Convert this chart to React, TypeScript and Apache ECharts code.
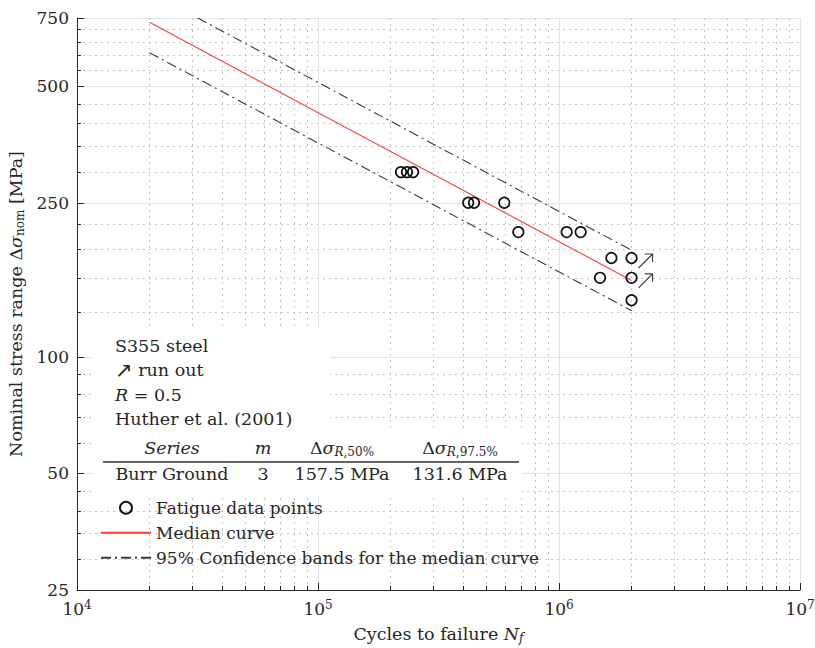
import React, { useEffect, useRef } from "react";
import * as echarts from "echarts";

// ---- data ----
const cycles = [2.21e5, 2.34e5, 2.48e5, 4.2e5, 4.44e5, 5.93e5, 6.78e5, 1.076e6, 1.23e6, 1.48e6, 1.65e6, 2.0e6, 2.0e6, 2.0e6];
const stress = [300, 300, 300, 250, 250, 250, 210, 210, 210, 160, 180, 180, 160, 140];
const runoutCycles = [2.0e6, 2.0e6];
const runoutStress = [180, 160];
const medianCycles = [2e4, 2e6];
const medianStress = [731, 157.5];
const upperCycles = [31700, 2e6];
const upperStress = [750, 188.5];
const lowerCycles = [2e4, 2e6];
const lowerStress = [610, 131.6];

const xMajorTicks = [1e4, 1e5, 1e6, 1e7];
const xMinorTicks = [2e4, 3e4, 4e4, 5e4, 6e4, 7e4, 8e4, 9e4, 2e5, 3e5, 4e5, 5e5, 6e5, 7e5, 8e5, 9e5, 2e6, 3e6, 4e6, 5e6, 6e6, 7e6, 8e6, 9e6];
const yMajorTicks = [25, 50, 100, 250, 500, 750];
const yMinorTicks = [30, 35, 40, 45, 60, 70, 80, 90, 130, 160, 190, 220, 300, 350, 400, 450, 550, 600, 650, 700];

const annotationLines = ["S355 steel", "{ar|↗}{n| run out}", "{i|R}{n| = 0.5}", "Huther et al. (2001)"];
const tableHeader = ["{i|Series}", "{i|m}", "{n|Δ}{i|σ}{si|R}{s|,50%}", "{n|Δ}{i|σ}{si|R}{s|,97.5%}"];
const tableRow = ["Burr Ground", "3", "157.5 MPa", "131.6 MPa"];
const legendNames = ["Fatigue data points", "Median curve", "95% Confidence bands for the median curve"];

const FONT = "'DejaVu Serif', 'Liberation Serif', serif";
const TXT = "#262626";
const FS = 17.5;

function pairs(xs: number[], ys: number[]) {
  return xs.map((x, i) => [x, ys[i]]);
}

const richBase = {
  n: { fontFamily: FONT, fontSize: FS, color: TXT },
  ar: { fontFamily: "'DejaVu Sans', sans-serif", fontSize: 21, color: TXT },
  i: { fontFamily: FONT, fontSize: FS, fontStyle: "italic", color: TXT },
  si: { fontFamily: FONT, fontSize: 12, fontStyle: "italic", color: TXT, verticalAlign: "bottom", padding: [8, 0, 0, 0] },
  s: { fontFamily: FONT, fontSize: 12, color: TXT, verticalAlign: "bottom", padding: [8, 0, 0, 0] },
};

export default function App() {
  const ref = useRef<HTMLDivElement>(null);
  useEffect(() => {
    document.body.style.margin = "0";
    const chart = echarts.init(ref.current!, null, { renderer: "svg" });
    const colX = [172, 263, 342, 460];
    const graphics: any[] = [
      { type: "rect", z: 50, shape: { x: 93, y: 328, width: 237, height: 104 }, style: { fill: "#fff" }, silent: true },
      { type: "rect", z: 50, shape: { x: 93, y: 432, width: 429, height: 65 }, style: { fill: "#fff" }, silent: true },
      { type: "line", z: 51, shape: { x1: 103, y1: 462, x2: 519, y2: 462 }, style: { stroke: "#333", lineWidth: 1.5 }, silent: true },
    ];
    annotationLines.forEach((t, k) => {
      graphics.push({
        type: "text", z: 51, x: 115, y: [346, 370, 395, 419][k],
        style: { text: t, font: `${FS}px ${FONT}`, fill: TXT, align: "left", verticalAlign: "middle", rich: richBase },
        silent: true,
      });
    });
    tableHeader.forEach((t, k) => {
      graphics.push({
        type: "text", z: 51, x: colX[k], y: 448,
        style: { text: t, font: `${FS}px ${FONT}`, fill: TXT, align: "center", verticalAlign: "middle", rich: richBase },
        silent: true,
      });
    });
    tableRow.forEach((t, k) => {
      graphics.push({
        type: "text", z: 51, x: colX[k], y: 474,
        style: { text: t, font: `${FS}px ${FONT}`, fill: TXT, align: "center", verticalAlign: "middle" },
        silent: true,
      });
    });

    const majorSplit = { show: true, lineStyle: { color: "#e2e2e2", width: 1, type: "solid" } };
    const minorSplit = { show: true, lineStyle: { color: "#c4c4c4", width: 1, type: [2, 4] } };
    const hiddenItem = { color: "rgba(0,0,0,0)", borderColor: "rgba(0,0,0,0)", borderWidth: 0 };

    chart.setOption({
      animation: false,
      backgroundColor: "#fff",
      textStyle: { fontFamily: FONT },
      grid: { left: 77, right: 15, top: 18, bottom: 58, containLabel: false, outerBoundsMode: "none" },
      xAxis: [
        {
          type: "log", logBase: 10, min: 1e4, max: 1e7, position: "bottom",
          name: "{n|Cycles to failure }{i|N}{si|f}",
          nameLocation: "middle", nameGap: 34,
          nameTextStyle: { rich: richBase },
          axisLine: { show: true, lineStyle: { color: TXT, width: 1 } },
          axisTick: { show: true, inside: true, length: 7, customValues: xMajorTicks, lineStyle: { color: TXT } },
          axisLabel: {
            show: true, customValues: xMajorTicks, margin: 9,
            formatter: (v: number) => `{a|10}{b|${Math.round(Math.log10(v))}}`,
            rich: {
              a: { fontFamily: FONT, fontSize: 17, color: TXT, lineHeight: 20 },
              b: { fontFamily: FONT, fontSize: 12, color: TXT, verticalAlign: "top", lineHeight: 12 },
            },
          },
          splitLine: majorSplit,
        },
        {
          type: "log", logBase: 10, min: 1e4, max: 1e7, position: "bottom",
          axisLine: { show: false },
          axisTick: { show: true, inside: true, length: 4, customValues: xMinorTicks, lineStyle: { color: TXT } },
          axisLabel: { show: false },
          splitLine: minorSplit,
        },
      ],
      yAxis: [
        {
          type: "log", logBase: 10, min: 25, max: 750, position: "left",
          name: "{n|Nominal stress range Δ}{i|σ}{s|nom}{n| [MPa]}",
          nameLocation: "middle", nameGap: 49, nameRotate: 90,
          nameTextStyle: { rich: richBase },
          axisLine: { show: true, lineStyle: { color: TXT, width: 1 } },
          axisTick: { show: true, inside: true, length: 7, customValues: yMajorTicks, lineStyle: { color: TXT } },
          axisLabel: { show: true, customValues: yMajorTicks, margin: 8, fontFamily: FONT, fontSize: 17, color: TXT },
          splitLine: majorSplit,
        },
        {
          type: "log", logBase: 10, min: 25, max: 750, position: "left",
          axisLine: { show: false },
          axisTick: { show: true, inside: true, length: 4, customValues: yMinorTicks, lineStyle: { color: TXT } },
          axisLabel: { show: false },
          splitLine: minorSplit,
        },
      ],
      legend: {
        data: legendNames,
        orient: "vertical", left: 100, top: 498, padding: 0,
        itemWidth: 50, itemHeight: 12, itemGap: 5.5,
        textStyle: { fontFamily: FONT, fontSize: 17, color: TXT, lineHeight: 19.5 },
        selectedMode: false,
      },
      series: [
        {
          name: legendNames[2], type: "line", data: pairs(upperCycles, upperStress),
          symbol: "none", showSymbol: false, z: 3, itemStyle: hiddenItem,
          lineStyle: { color: "#3a3a3a", width: 1.1, type: [10, 4, 2, 4] },
        },
        {
          name: legendNames[2], type: "line", data: pairs(lowerCycles, lowerStress),
          symbol: "none", showSymbol: false, z: 3, itemStyle: hiddenItem,
          lineStyle: { color: "#3a3a3a", width: 1.1, type: [10, 4, 2, 4] },
        },
        {
          name: legendNames[1], type: "line", data: pairs(medianCycles, medianStress),
          symbol: "none", showSymbol: false, z: 4, itemStyle: hiddenItem,
          lineStyle: { color: "#ff3b3b", width: 1.1 },
        },
        {
          name: legendNames[0], type: "scatter", data: pairs(cycles, stress),
          symbol: "circle", symbolSize: 10.5, z: 5,
          itemStyle: { color: "rgba(0,0,0,0)", borderColor: "#111", borderWidth: 1.7, opacity: 1 },
        },
        {
          name: "Run out", type: "scatter", data: pairs(runoutCycles, runoutStress),
          symbol: "path://M0,16 L16,0 M7,0 L16,0 L16,9", symbolSize: [14, 14], symbolOffset: [14, 3], z: 5,
          itemStyle: { color: "none", borderColor: "#111", borderWidth: 1.2 },
        },
      ],
      graphic: graphics,
    });
    return () => chart.dispose();
  }, []);
  return <div ref={ref} style={{ width: 815, height: 648 }} />;
}
